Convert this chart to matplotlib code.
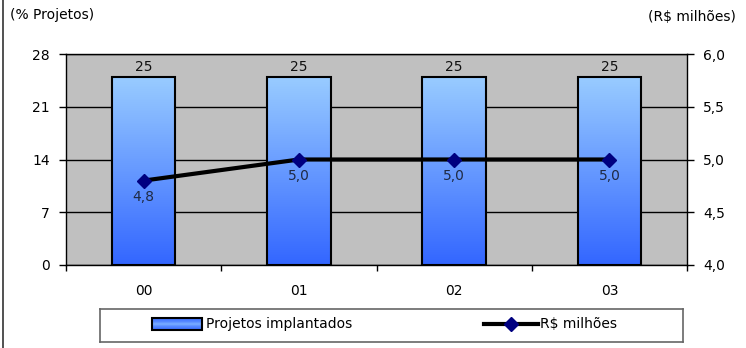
import matplotlib
matplotlib.use("Agg")
import matplotlib.pyplot as plt
import numpy as np
from matplotlib.colors import LinearSegmentedColormap
from matplotlib.lines import Line2D
from matplotlib.patches import Rectangle

plt.rcParams['font.family'] = ['DejaVu Sans']

categories = ["00", "01", "02", "03"]
projetos = [25, 25, 25, 25]
milhoes = [4.8, 5.0, 5.0, 5.0]
left_ticks = [0, 7, 14, 21, 28]
right_ticks = [4.0, 4.5, 5.0, 5.5, 6.0]
series_names = ["Projetos implantados", "R$ milhões"]

W, H = 746, 348
FS = 10
fig = plt.figure(figsize=(W/100, H/100), dpi=100)
ax = fig.add_axes([66/W, 1-265/H, (687-66)/W, (265-54)/H])
ax.set_facecolor("#C0C0C0")
x = np.arange(len(categories))
ax.set_axisbelow(True)
ax.yaxis.grid(True, color="black", linewidth=1.0)

cmap = LinearSegmentedColormap.from_list("g", ["#3366FF", "#99CCFF"])
grad = np.linspace(0, 1, 256).reshape(-1, 1)
bars = ax.bar(x, projetos, width=0.41, facecolor="none", edgecolor="black", linewidth=1.5, zorder=3)
for b, v in zip(bars, projetos):
    x0, y0 = b.get_x(), b.get_y()
    w, h = b.get_width(), b.get_height()
    im = ax.imshow(grad, extent=[x0, x0+w, y0, y0+h], origin="lower", cmap=cmap,
                   aspect="auto", zorder=2, interpolation="bilinear")
    im.set_clip_path(b)
    ax.annotate(f"{v}", (x0 + w/2, y0 + h), xytext=(0, 2), textcoords="offset points",
                ha="center", va="bottom", fontsize=FS, color="#111111")
ax.set_xlim(-0.5, len(categories)-0.5)
ax.set_ylim(0, 28)

ax.set_yticks(left_ticks)
ax.set_yticklabels([str(t) for t in left_ticks], fontsize=FS)
ax.tick_params(axis="y", length=4.7, width=1, pad=7)
ax.set_xticks(np.arange(-0.5, len(categories)))
ax.set_xticklabels([""] * (len(categories)+1))
ax.tick_params(axis="x", length=4.5, width=1, direction="out")
for i, c in enumerate(categories):
    ax.annotate(c, (i, 0), xycoords=("data", "axes fraction"), xytext=(0, -14),
                textcoords="offset points", ha="center", va="top", fontsize=FS)
for s in ax.spines.values():
    s.set_color("black")
    s.set_linewidth(1.0)

ax2 = ax.twinx()
ax2.set_ylim(4.0, 6.0)
ax2.set_yticks(right_ticks)
ax2.set_yticklabels([f"{t:.1f}".replace(".", ",") for t in right_ticks], fontsize=FS)
ax2.tick_params(axis="y", length=4.7, width=1, pad=7)
ax2.plot(x, milhoes, color="black", linewidth=3, marker="D", markersize=7,
         markerfacecolor="#000080", markeredgecolor="#000080", zorder=5)
for xi, v in zip(x, milhoes):
    ax2.annotate(f"{v:.1f}".replace(".", ","), (xi, v), xytext=(0, -6.5),
                 textcoords="offset points", ha="center", va="top",
                 fontsize=FS, color="#1F2A44")
for s in ax2.spines.values():
    s.set_visible(False)

fig.text(10/W, 1-15/H, "(% Projetos)", ha="left", va="center", fontsize=FS)
fig.text(736/W, 1-17/H, "(R$ milhões)", ha="right", va="center", fontsize=FS)

# figure left border
fig.add_artist(Line2D([3/W, 3/W], [0, 1], transform=fig.transFigure, color="#333333", linewidth=1.2))

# legend box (drawn in pixel units)
lx0, ly0, lw, lh = 100, 342, 583, 33
lax = fig.add_axes([lx0/W, 1-ly0/H, lw/W, lh/H])
lax.set_xticks([])
lax.set_yticks([])
for s in lax.spines.values():
    s.set_color("#666666")
    s.set_linewidth(1.2)
yc = lh - (324 - (ly0 - lh))
pr = Rectangle((52, yc - 6), 50, 12, facecolor="none", edgecolor="black", linewidth=1.5, zorder=3)
lax.add_patch(pr)
lgrad = np.array([[0.15], [0.35], [0.7], [0.35], [0.15]])
gim = lax.imshow(lgrad, extent=[52, 102, yc - 6, yc + 6], cmap=cmap, vmin=0, vmax=1,
                 aspect="auto", zorder=2, interpolation="bilinear")
gim.set_clip_path(pr)
lax.set_xlim(0, lw)
lax.set_ylim(0, lh)
lax.text(106, yc, series_names[0], ha="left", va="center", fontsize=FS)
lax.plot([384, 438], [yc, yc], color="black", linewidth=3)
lax.plot([411], [yc], marker="D", markersize=7, markerfacecolor="#000080", markeredgecolor="#000080")
lax.text(440, yc, series_names[1], ha="left", va="center", fontsize=FS)

fig.savefig("out.png", dpi=100)
